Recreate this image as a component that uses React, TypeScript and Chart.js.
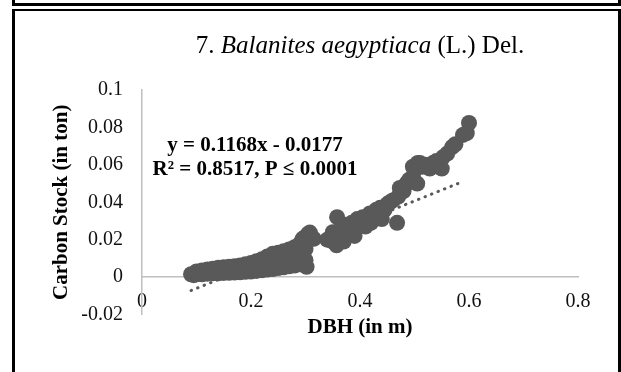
import React, { useEffect, useRef } from 'react';
import { Chart, registerables } from 'chart.js';

Chart.register(...registerables);

// ---- data ----
const dbhValues = [
  0.09, 0.095, 0.1, 0.1, 0.11, 0.11, 0.12, 0.12, 0.13, 0.13, 0.14, 0.14, 0.15, 0.15,
  0.16, 0.16, 0.17, 0.17, 0.18, 0.18, 0.19, 0.19, 0.2, 0.2, 0.2, 0.21, 0.21, 0.21,
  0.22, 0.22, 0.22, 0.23, 0.23, 0.23, 0.24, 0.24, 0.24, 0.25, 0.25, 0.25, 0.26, 0.26,
  0.26, 0.27, 0.27, 0.27, 0.28, 0.28, 0.28, 0.29, 0.29, 0.29, 0.295, 0.3, 0.3, 0.3,
  0.302, 0.305, 0.308, 0.31, 0.315,
  0.34, 0.35, 0.35, 0.357, 0.358, 0.36, 0.365, 0.37, 0.37, 0.375, 0.38, 0.385, 0.39,
  0.39, 0.395, 0.4, 0.405, 0.41, 0.41, 0.418, 0.42, 0.425, 0.43, 0.437, 0.44, 0.445,
  0.45, 0.455, 0.46, 0.468, 0.47, 0.473, 0.48, 0.485, 0.49, 0.497, 0.5, 0.497, 0.505,
  0.506, 0.51, 0.515, 0.52, 0.528, 0.534, 0.54, 0.55, 0.552, 0.56, 0.569, 0.575,
  0.589, 0.596, 0.6,
];
const carbonValues = [
  0.0015, 0.001, 0.0015, 0.003, 0.0015, 0.0035, 0.0018, 0.004, 0.002, 0.0045, 0.002,
  0.005, 0.0022, 0.0052, 0.0023, 0.0055, 0.0024, 0.0058, 0.0026, 0.0062, 0.0028, 0.0068,
  0.003, 0.0075, 0.005, 0.0033, 0.0085, 0.0058, 0.0036, 0.0095, 0.0065, 0.004, 0.011,
  0.0075, 0.0043, 0.0125, 0.008, 0.0048, 0.013, 0.009, 0.0052, 0.0138, 0.0095, 0.0058,
  0.0148, 0.01, 0.0062, 0.016, 0.011, 0.0068, 0.018, 0.012, 0.0205, 0.009, 0.0215, 0.015,
  0.0055, 0.0232, 0.0238, 0.021, 0.0205,
  0.02, 0.024, 0.019, 0.017, 0.032, 0.021, 0.026, 0.023, 0.019, 0.028, 0.025, 0.029,
  0.027, 0.022, 0.031, 0.029, 0.032, 0.031, 0.027, 0.034, 0.029, 0.033, 0.036, 0.037,
  0.031, 0.036, 0.039, 0.04, 0.041, 0.029, 0.043, 0.0476, 0.046, 0.05, 0.052, 0.053,
  0.057, 0.059, 0.05, 0.061, 0.061, 0.059, 0.06, 0.058, 0.061, 0.062, 0.058, 0.064,
  0.066, 0.0695, 0.071, 0.076, 0.077, 0.0824,
];
const trendX = [0.09, 0.59];
const trendY = [-0.0072, 0.0512];

const xTickValues = [0, 0.2, 0.4, 0.6, 0.8];
const yTickValues = [-0.02, 0, 0.02, 0.04, 0.06, 0.08, 0.1];

const titleNumber = '7. ';
const titleSpecies = 'Balanites aegyptiaca';
const titleAuthor = ' (L.) Del.';
const equationLines = ['y = 0.1168x - 0.0177', 'R\u00B2 = 0.8517, P \u2264 0.0001'];
const xAxisTitle = 'DBH (in m)';
const yAxisTitle = 'Carbon Stock (in ton)';

const SERIF = '"Liberation Serif", "Times New Roman", serif';
const POINT_COLOR = '#595959';
const AXIS_COLOR = '#bfbfbf';

const fmt = (v: number) => String(Number(v.toFixed(2)));

const textPlugin = {
  id: 'chartTexts',
  afterDraw(chart: any) {
    const { ctx, chartArea } = chart;
    const cx = (chartArea.left + chartArea.right) / 2;
    ctx.save();
    ctx.fillStyle = '#000';
    // Title (mixed upright / italic)
    const parts = [
      { t: titleNumber, f: `25px ${SERIF}` },
      { t: titleSpecies, f: `italic 25px ${SERIF}` },
      { t: titleAuthor, f: `25px ${SERIF}` },
    ];
    let total = 0;
    for (const p of parts) {
      ctx.font = p.f;
      total += ctx.measureText(p.t).width;
    }
    let x = cx - total / 2;
    ctx.textBaseline = 'alphabetic';
    ctx.textAlign = 'left';
    for (const p of parts) {
      ctx.font = p.f;
      ctx.fillText(p.t, x, 53);
      x += ctx.measureText(p.t).width;
    }
    // Equation
    ctx.font = `bold 21px ${SERIF}`;
    ctx.textAlign = 'center';
    ctx.fillText(equationLines[0], 255, 151);
    ctx.fillText(equationLines[1], 255, 175);
    // X axis title
    ctx.textBaseline = 'middle';
    ctx.fillText(xAxisTitle, cx, 328);
    // Y axis title
    ctx.translate(62, (chartArea.top + chartArea.bottom) / 2);
    ctx.rotate(-Math.PI / 2);
    ctx.fillText(yAxisTitle, 0, 0);
    ctx.restore();
  },
};

export default function App() {
  const ref = useRef<HTMLCanvasElement | null>(null);

  useEffect(() => {
    if (!ref.current) return;
    const points = dbhValues.map((d, i) => ({ x: d, y: carbonValues[i] }));
    const trend = trendX.map((d, i) => ({ x: d, y: trendY[i] }));
    const chart = new Chart(ref.current, {
      type: 'scatter',
      data: {
        datasets: [
          {
            data: points,
            backgroundColor: POINT_COLOR,
            borderWidth: 0,
            pointRadius: 8,
            pointHoverRadius: 8,
          },
          {
            type: 'line',
            data: trend,
            showLine: true,
            borderColor: POINT_COLOR,
            borderWidth: 3,
            borderDash: [0.5, 6.5],
            borderCapStyle: 'round',
            pointRadius: 0,
            fill: false,
          } as any,
        ],
      },
      options: {
        responsive: false,
        animation: false,
        events: [],
        layout: { padding: { top: 90, left: 0, right: 43, bottom: 57.5 } },
        plugins: { legend: { display: false }, tooltip: { enabled: false }, title: { display: false } },
        scales: {
          x: {
            type: 'linear',
            min: 0,
            max: 0.8,
            position: { y: 0 } as any,
            grid: { display: false, drawTicks: false },
            border: { display: true, color: AXIS_COLOR, width: 1.5 },
            afterBuildTicks: (s: any) => {
              s.ticks = xTickValues.map((v) => ({ value: v }));
            },
            ticks: {
              padding: 13,
              maxRotation: 0,
              autoSkip: false,
              color: '#111',
              font: { family: SERIF, size: 20 },
              callback: (v: any) => fmt(Number(v)),
            },
          },
          y: {
            type: 'linear',
            min: -0.02,
            max: 0.1,
            grid: { display: false, drawTicks: false },
            border: { display: true, color: AXIS_COLOR, width: 1.5 },
            afterFit: (s: any) => {
              s.width = 142;
            },
            afterBuildTicks: (s: any) => {
              s.ticks = yTickValues.map((v) => ({ value: v }));
            },
            ticks: {
              padding: 19,
              autoSkip: false,
              color: '#111',
              font: { family: SERIF, size: 20 },
              callback: (v: any) => fmt(Number(v)),
            },
          },
        },
      },
      plugins: [textPlugin],
    } as any);
    return () => chart.destroy();
  }, []);

  return (
    <div
      style={{
        position: 'fixed',
        left: 0,
        top: 0,
        width: 621,
        height: 372,
        background: '#fff',
        overflow: 'hidden',
      }}
    >
      <canvas
        ref={ref}
        width={621}
        height={372}
        style={{ position: 'absolute', left: 0, top: 0, width: 621, height: 372 }}
      />
      <div
        style={{
          position: 'absolute',
          left: 12,
          top: -20,
          width: 609,
          height: 26,
          border: '3px solid #000',
          boxSizing: 'border-box',
          pointerEvents: 'none',
        }}
      />
      <div
        style={{
          position: 'absolute',
          left: 12,
          top: 9,
          width: 609,
          height: 420,
          border: '3px solid #000',
          borderTopWidth: 2,
          boxSizing: 'border-box',
          pointerEvents: 'none',
        }}
      />
    </div>
  );
}
